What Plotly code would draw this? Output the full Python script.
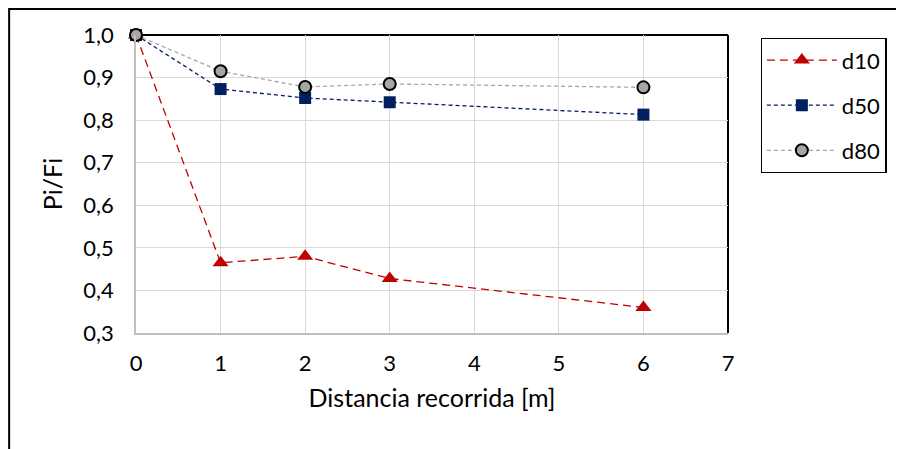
import plotly.graph_objects as go

x_dist = [0, 1, 2, 3, 6]
d10 = [1.0, 0.465, 0.48, 0.428, 0.36]
d50 = [1.0, 0.873, 0.852, 0.842, 0.813]
d80 = [1.0, 0.915, 0.878, 0.885, 0.877]

FONT = "Lato, Carlito, 'Liberation Sans', sans-serif"

fig = go.Figure()
fig.add_trace(go.Scatter(x=x_dist, y=d10, name="d10", mode="lines+markers", cliponaxis=False,
                         line=dict(color="#c00000", width=1.3, dash="8px,5px"),
                         marker=dict(symbol="triangle-up", size=14, color="#c00000"),
                         legendgroup="a"))
fig.add_trace(go.Scatter(x=x_dist, y=d50, name="d50", mode="lines+markers", cliponaxis=False,
                         line=dict(color="#002060", width=1.3, dash="4px,3px"),
                         marker=dict(symbol="square", size=12, color="#002060"),
                         legendgroup="b"))
fig.add_trace(go.Scatter(x=x_dist, y=d80, name="d80", mode="lines+markers", cliponaxis=False,
                         line=dict(color="#a6a6a6", width=1.3, dash="4px,3px"),
                         marker=dict(symbol="circle", size=12, color="#a6a6a6",
                                     line=dict(color="black", width=2)),
                         legendgroup="c"))

fig.update_layout(
    width=904, height=449,
    margin=dict(l=128, r=183.5, t=27, b=124, autoexpand=False),
    paper_bgcolor="white", plot_bgcolor="white",
    separators=", ",
    font=dict(family=FONT, size=22, color="black"),
    showlegend=True,
    legend=dict(x=1.055, y=0.99, xanchor="left", yanchor="top",
                bordercolor="black", borderwidth=1.3, font=dict(size=22),
                tracegroupgap=13.5, itemwidth=70),
    xaxis=dict(range=[0, 7], dtick=1, showgrid=True, gridcolor="#d9d9d9", gridwidth=1.3,
               showline=True, linecolor="#bfbfbf", linewidth=1.5, zeroline=False,
               ticks="", ticklabelstandoff=10,
               title=dict(text="Distancia recorrida [m]", font=dict(size=25), standoff=14)),
    yaxis=dict(range=[0.3, 1.0], dtick=0.1, tickformat=".1f", showgrid=True,
               gridcolor="#d9d9d9", gridwidth=1.3,
               showline=True, linecolor="#bfbfbf", linewidth=1.5, zeroline=False,
               ticks="", ticklabelstandoff=16,
               title=dict(text="Pi/Fi", font=dict(size=25), standoff=14)),
)

# plot-area border (top and right black)
fig.add_shape(type="line", xref="paper", yref="paper", x0=0, x1=1, y0=1, y1=1,
              line=dict(color="black", width=2), layer="below")
fig.add_shape(type="line", xref="paper", yref="paper", x0=1, x1=1, y0=0, y1=1,
              line=dict(color="black", width=2), layer="below")
# outer chart frame
fig.add_shape(type="rect", xref="paper", yref="paper", x0=-0.2143, x1=1.5, y0=-0.6, y1=1.0872,
              line=dict(color="black", width=2), layer="below")

fig.write_html("out.html")
